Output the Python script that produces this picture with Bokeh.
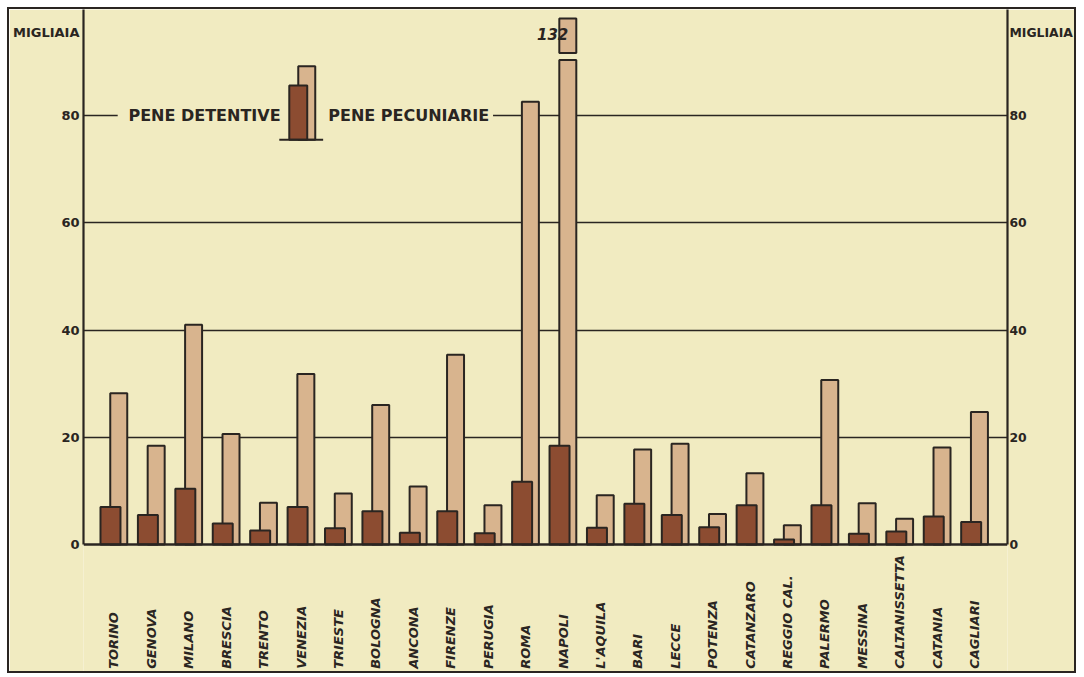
import math
from bokeh.plotting import figure
from bokeh.models import (ColumnDataSource, Range1d, LinearAxis, FixedTicker, Grid,
                          Label, BoxAnnotation, Span)
from bokeh.transform import dodge
from bokeh.core.properties import value
from bokeh.embed import file_html
from bokeh.resources import INLINE

# ---------------- data ----------------
cities = ["TORINO", "GENOVA", "MILANO", "BRESCIA", "TRENTO", "VENEZIA", "TRIESTE",
          "BOLOGNA", "ANCONA", "FIRENZE", "PERUGIA", "ROMA", "NAPOLI", "L'AQUILA",
          "BARI", "LECCE", "POTENZA", "CATANZARO", "REGGIO CAL.", "PALERMO",
          "MESSINA", "CALTANISSETTA", "CATANIA", "CAGLIARI"]
pene_detentive = [7.0, 5.5, 10.4, 3.9, 2.6, 7.0, 3.0, 6.2, 2.2, 6.2, 2.1, 11.7,
                  18.4, 3.1, 7.6, 5.5, 3.2, 7.3, 0.9, 7.3, 2.0, 2.4, 5.2, 4.2]
pene_pecuniarie = [28.2, 18.4, 41.0, 20.6, 7.8, 31.8, 9.5, 26.0, 10.8, 35.4, 7.3, 82.6,
                   132, 9.2, 17.7, 18.8, 5.7, 13.3, 3.6, 30.7, 7.7, 4.8, 18.1, 24.7]
y_ticks = [0, 20, 40, 60, 80]
grid_ticks = [20, 40, 60, 80]
unit_label = "MIGLIAIA"
legend_labels = ["PENE DETENTIVE", "PENE PECUNIARIE"]

# ---------------- style ----------------
PAPER = "#f1ebc1"
INK = "#2a2521"
DARK = "#8c4c31"
LIGHT = "#d8b48e"
FONT = "DejaVu Sans"

X0, X1 = -0.814, 23.878
Y0, Y1 = -24.45, 99.8
BREAK_AT = 90.4          # where the over-range bar is cut
CAP_BOTTOM, CAP_TOP = 91.7, 98.1
DET_OFF, DET_W = -0.093, 0.534
PEC_OFF, PEC_W = 0.128, 0.454
LABEL_Y = -23.2
UNIT_POS = 95.6          # height of the unit caption on the side panels

p = figure(width=1069, height=666, x_range=Range1d(X0, X1), y_range=Range1d(Y0, Y1),
           output_backend="svg", toolbar_location=None,
           x_axis_location=None, y_axis_location=None,
           min_border_left=73, min_border_right=71, min_border_top=0, min_border_bottom=0,
           background_fill_color=PAPER, border_fill_color=PAPER, outline_line_color=None)
p.styles = {"border": f"2px solid {INK}", "margin-left": "7px", "margin-top": "7px"}
p.center = [r for r in p.center if not isinstance(r, Grid)]

# grid lines
p.add_layout(Grid(dimension=1, ticker=FixedTicker(ticks=grid_ticks),
                  grid_line_color=INK, grid_line_width=1.6))

# axes both sides (axis line = frame edge above zero, unit caption as top label)
for side, standoff, size in (("left", 4, "13px"), ("right", 2, "12.4px")):
    ax = LinearAxis(ticker=FixedTicker(ticks=y_ticks + [UNIT_POS]),
                    major_label_overrides={UNIT_POS: unit_label},
                    bounds=(0, Y1),
                    axis_line_color=INK, axis_line_width=2.2,
                    major_tick_line_color=None, minor_tick_line_color=None,
                    major_tick_in=0, major_tick_out=0, minor_tick_in=0, minor_tick_out=0,
                    major_label_standoff=standoff,
                    major_label_text_font=FONT, major_label_text_font_style="bold",
                    major_label_text_font_size=size, major_label_text_color=INK)
    p.add_layout(ax, side)

# legend area: hide the gridline under the legend text
p.add_layout(BoxAnnotation(left=0.1, right=10.13, bottom=78.8, top=81.2,
                           fill_color=PAPER, fill_alpha=1, line_color=None))

# bars
idx = list(range(len(cities)))
src = ColumnDataSource(dict(idx=idx, city=cities, det=pene_detentive,
                            pec=[min(v, BREAK_AT) for v in pene_pecuniarie]))
p.vbar(x=dodge("idx", PEC_OFF, range=p.x_range), top="pec", bottom=0, width=PEC_W,
       source=src, fill_color=LIGHT, line_color=INK, line_width=2)
p.vbar(x=dodge("idx", DET_OFF, range=p.x_range), top="det", bottom=0, width=DET_W,
       source=src, fill_color=DARK, line_color=INK, line_width=2)

# broken bar cap for values beyond the axis
over = [i for i, v in enumerate(pene_pecuniarie) if v > BREAK_AT]
cap = ColumnDataSource(dict(
    l=[i + PEC_OFF - PEC_W / 2 for i in over],
    r=[i + PEC_OFF + PEC_W / 2 for i in over],
    txt=[str(pene_pecuniarie[i]) for i in over]))
p.quad(left="l", right="r", bottom=CAP_BOTTOM, top=CAP_TOP, source=cap,
       fill_color=LIGHT, line_color=INK, line_width=2)
p.text(x="l", y=(CAP_BOTTOM + CAP_TOP) / 2 + 0.4, text="txt", source=cap,
       x_offset=9, text_align="right", text_baseline="middle",
       text_font=value(FONT), text_font_style="bold italic", text_font_size="15px",
       text_color=INK)

# zero line
p.add_layout(Span(location=0, dimension="width", line_color=INK, line_width=2.6))

# city labels, rotated, anchored at the bottom
p.text(x="idx", y=LABEL_Y, text="city", source=src, angle=math.pi / 2,
       text_align="left", text_baseline="middle", text_font=value(FONT),
       text_font_style="bold italic", text_font_size="13px", text_color=INK)

# legend (text - key - text) on the 80 line
p.add_layout(Label(x=0.387, y=80, text=legend_labels[0], text_align="left",
                   text_baseline="middle", text_font=FONT, text_font_style="bold",
                   text_font_size="16px", text_color=INK))
p.add_layout(Label(x=5.726, y=80, text=legend_labels[1], text_align="left",
                   text_baseline="middle", text_font=FONT, text_font_style="bold",
                   text_font_size="16px", text_color=INK))
p.quad(left=[4.925], right=[5.379], bottom=[75.5], top=[89.2], level="overlay",
       fill_color=LIGHT, line_color=INK, line_width=2)
p.quad(left=[4.685], right=[5.165], bottom=[75.5], top=[85.6], level="overlay",
       fill_color=DARK, line_color=INK, line_width=2)
p.segment(x0=[4.418], y0=[75.5], x1=[5.59], y1=[75.5], level="overlay",
          line_color=INK, line_width=2)

open("out.html", "w").write(file_html(p, INLINE))
